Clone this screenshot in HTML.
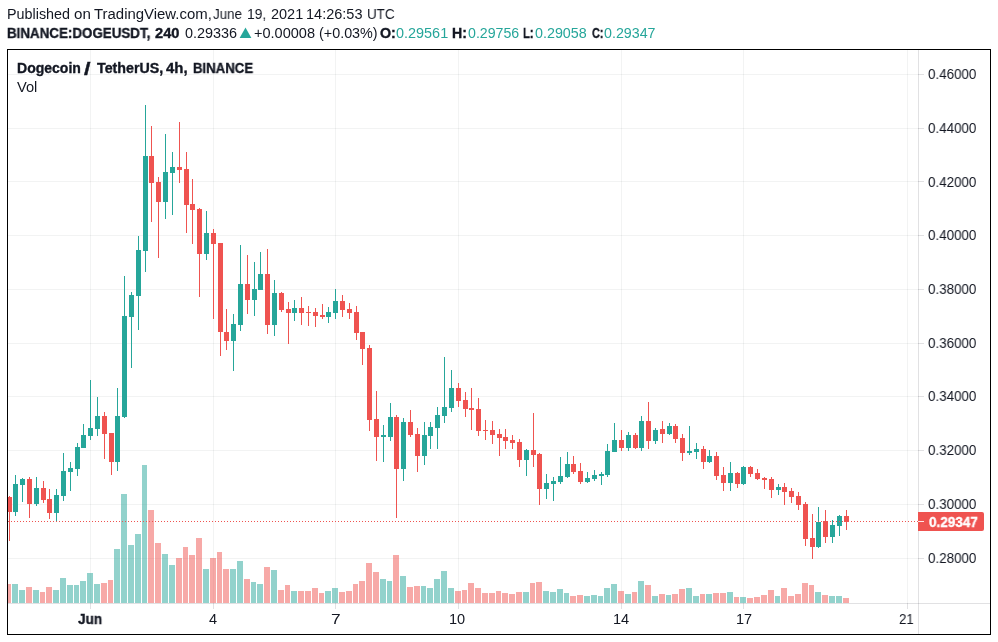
<!DOCTYPE html>
<html><head><meta charset="utf-8"><title>DOGEUSDT</title>
<style>
html,body{margin:0;padding:0;background:#fff;}
body{width:998px;height:642px;position:relative;overflow:hidden;font-family:"Liberation Sans",sans-serif;font-size:14px;color:#131722;}
.t{position:absolute;white-space:nowrap;line-height:16px;height:16px;transform-origin:0 0;will-change:transform;}
.b{font-weight:bold;-webkit-text-stroke:0.35px;}
svg{position:absolute;left:0;top:0;}
</style></head><body>

<svg width="998" height="642" viewBox="0 0 998 642" shape-rendering="crispEdges">
<rect x="8" y="74" width="910" height="1" fill="#2a2e39" fill-opacity="0.06"/>
<rect x="8" y="128" width="910" height="1" fill="#2a2e39" fill-opacity="0.06"/>
<rect x="8" y="181" width="910" height="1" fill="#2a2e39" fill-opacity="0.06"/>
<rect x="8" y="235" width="910" height="1" fill="#2a2e39" fill-opacity="0.06"/>
<rect x="8" y="289" width="910" height="1" fill="#2a2e39" fill-opacity="0.06"/>
<rect x="8" y="343" width="910" height="1" fill="#2a2e39" fill-opacity="0.06"/>
<rect x="8" y="396" width="910" height="1" fill="#2a2e39" fill-opacity="0.06"/>
<rect x="8" y="450" width="910" height="1" fill="#2a2e39" fill-opacity="0.06"/>
<rect x="8" y="504" width="910" height="1" fill="#2a2e39" fill-opacity="0.06"/>
<rect x="8" y="558" width="910" height="1" fill="#2a2e39" fill-opacity="0.06"/>
<rect x="90" y="50" width="1" height="553" fill="#2a2e39" fill-opacity="0.06"/>
<rect x="213" y="50" width="1" height="553" fill="#2a2e39" fill-opacity="0.06"/>
<rect x="335" y="50" width="1" height="553" fill="#2a2e39" fill-opacity="0.06"/>
<rect x="458" y="50" width="1" height="553" fill="#2a2e39" fill-opacity="0.06"/>
<rect x="621" y="50" width="1" height="553" fill="#2a2e39" fill-opacity="0.06"/>
<rect x="743" y="50" width="1" height="553" fill="#2a2e39" fill-opacity="0.06"/>
<rect x="907" y="50" width="1" height="553" fill="#2a2e39" fill-opacity="0.06"/>
<rect x="8" y="584" width="3" height="19" fill="#ef5350" fill-opacity="0.5"/>
<rect x="12" y="584" width="6" height="19" fill="#26a69a" fill-opacity="0.5"/>
<rect x="19" y="590" width="6" height="13" fill="#26a69a" fill-opacity="0.5"/>
<rect x="26" y="587" width="6" height="16" fill="#ef5350" fill-opacity="0.5"/>
<rect x="33" y="590" width="6" height="13" fill="#26a69a" fill-opacity="0.5"/>
<rect x="40" y="592" width="5" height="11" fill="#ef5350" fill-opacity="0.5"/>
<rect x="46" y="587" width="6" height="16" fill="#ef5350" fill-opacity="0.5"/>
<rect x="53" y="590" width="6" height="13" fill="#26a69a" fill-opacity="0.5"/>
<rect x="60" y="578" width="6" height="25" fill="#26a69a" fill-opacity="0.5"/>
<rect x="67" y="585" width="6" height="18" fill="#26a69a" fill-opacity="0.5"/>
<rect x="74" y="585" width="5" height="18" fill="#26a69a" fill-opacity="0.5"/>
<rect x="80" y="581" width="6" height="22" fill="#26a69a" fill-opacity="0.5"/>
<rect x="87" y="573" width="6" height="30" fill="#26a69a" fill-opacity="0.5"/>
<rect x="94" y="584" width="6" height="19" fill="#26a69a" fill-opacity="0.5"/>
<rect x="101" y="583" width="6" height="20" fill="#ef5350" fill-opacity="0.5"/>
<rect x="108" y="580" width="5" height="23" fill="#ef5350" fill-opacity="0.5"/>
<rect x="114" y="549" width="6" height="54" fill="#26a69a" fill-opacity="0.5"/>
<rect x="121" y="494" width="6" height="109" fill="#26a69a" fill-opacity="0.5"/>
<rect x="128" y="545" width="6" height="58" fill="#26a69a" fill-opacity="0.5"/>
<rect x="135" y="534" width="6" height="69" fill="#26a69a" fill-opacity="0.5"/>
<rect x="142" y="465" width="5" height="138" fill="#26a69a" fill-opacity="0.5"/>
<rect x="148" y="510" width="6" height="93" fill="#ef5350" fill-opacity="0.5"/>
<rect x="155" y="543" width="6" height="60" fill="#ef5350" fill-opacity="0.5"/>
<rect x="162" y="554" width="6" height="49" fill="#26a69a" fill-opacity="0.5"/>
<rect x="169" y="565" width="6" height="38" fill="#26a69a" fill-opacity="0.5"/>
<rect x="176" y="558" width="6" height="45" fill="#ef5350" fill-opacity="0.5"/>
<rect x="183" y="547" width="5" height="56" fill="#ef5350" fill-opacity="0.5"/>
<rect x="189" y="555" width="6" height="48" fill="#ef5350" fill-opacity="0.5"/>
<rect x="196" y="538" width="6" height="65" fill="#ef5350" fill-opacity="0.5"/>
<rect x="203" y="569" width="6" height="34" fill="#26a69a" fill-opacity="0.5"/>
<rect x="210" y="558" width="6" height="45" fill="#ef5350" fill-opacity="0.5"/>
<rect x="217" y="552" width="5" height="51" fill="#ef5350" fill-opacity="0.5"/>
<rect x="223" y="569" width="6" height="34" fill="#ef5350" fill-opacity="0.5"/>
<rect x="230" y="569" width="6" height="34" fill="#26a69a" fill-opacity="0.5"/>
<rect x="237" y="561" width="6" height="42" fill="#26a69a" fill-opacity="0.5"/>
<rect x="244" y="579" width="6" height="24" fill="#ef5350" fill-opacity="0.5"/>
<rect x="251" y="582" width="5" height="21" fill="#26a69a" fill-opacity="0.5"/>
<rect x="257" y="584" width="6" height="19" fill="#26a69a" fill-opacity="0.5"/>
<rect x="264" y="567" width="6" height="36" fill="#ef5350" fill-opacity="0.5"/>
<rect x="271" y="570" width="6" height="33" fill="#26a69a" fill-opacity="0.5"/>
<rect x="278" y="590" width="6" height="13" fill="#ef5350" fill-opacity="0.5"/>
<rect x="285" y="585" width="5" height="18" fill="#ef5350" fill-opacity="0.5"/>
<rect x="291" y="591" width="6" height="12" fill="#26a69a" fill-opacity="0.5"/>
<rect x="298" y="591" width="6" height="12" fill="#ef5350" fill-opacity="0.5"/>
<rect x="305" y="591" width="6" height="12" fill="#ef5350" fill-opacity="0.5"/>
<rect x="312" y="588" width="6" height="15" fill="#ef5350" fill-opacity="0.5"/>
<rect x="319" y="593" width="5" height="10" fill="#ef5350" fill-opacity="0.5"/>
<rect x="325" y="591" width="6" height="12" fill="#26a69a" fill-opacity="0.5"/>
<rect x="332" y="588" width="6" height="15" fill="#26a69a" fill-opacity="0.5"/>
<rect x="339" y="592" width="6" height="11" fill="#ef5350" fill-opacity="0.5"/>
<rect x="346" y="591" width="6" height="12" fill="#ef5350" fill-opacity="0.5"/>
<rect x="353" y="584" width="5" height="19" fill="#ef5350" fill-opacity="0.5"/>
<rect x="359" y="581" width="6" height="22" fill="#ef5350" fill-opacity="0.5"/>
<rect x="366" y="563" width="6" height="40" fill="#ef5350" fill-opacity="0.5"/>
<rect x="373" y="572" width="6" height="31" fill="#ef5350" fill-opacity="0.5"/>
<rect x="380" y="579" width="6" height="24" fill="#26a69a" fill-opacity="0.5"/>
<rect x="387" y="581" width="5" height="22" fill="#26a69a" fill-opacity="0.5"/>
<rect x="393" y="555" width="6" height="48" fill="#ef5350" fill-opacity="0.5"/>
<rect x="400" y="576" width="6" height="27" fill="#26a69a" fill-opacity="0.5"/>
<rect x="407" y="587" width="6" height="16" fill="#ef5350" fill-opacity="0.5"/>
<rect x="414" y="586" width="6" height="17" fill="#ef5350" fill-opacity="0.5"/>
<rect x="421" y="586" width="5" height="17" fill="#26a69a" fill-opacity="0.5"/>
<rect x="427" y="588" width="6" height="15" fill="#26a69a" fill-opacity="0.5"/>
<rect x="434" y="579" width="6" height="24" fill="#26a69a" fill-opacity="0.5"/>
<rect x="441" y="571" width="6" height="32" fill="#26a69a" fill-opacity="0.5"/>
<rect x="448" y="588" width="6" height="15" fill="#26a69a" fill-opacity="0.5"/>
<rect x="455" y="591" width="6" height="12" fill="#ef5350" fill-opacity="0.5"/>
<rect x="462" y="590" width="5" height="13" fill="#ef5350" fill-opacity="0.5"/>
<rect x="468" y="583" width="6" height="20" fill="#ef5350" fill-opacity="0.5"/>
<rect x="475" y="588" width="6" height="15" fill="#ef5350" fill-opacity="0.5"/>
<rect x="482" y="593" width="6" height="10" fill="#ef5350" fill-opacity="0.5"/>
<rect x="489" y="593" width="6" height="10" fill="#ef5350" fill-opacity="0.5"/>
<rect x="496" y="591" width="5" height="12" fill="#ef5350" fill-opacity="0.5"/>
<rect x="502" y="593" width="6" height="10" fill="#ef5350" fill-opacity="0.5"/>
<rect x="509" y="594" width="6" height="9" fill="#ef5350" fill-opacity="0.5"/>
<rect x="516" y="592" width="6" height="11" fill="#ef5350" fill-opacity="0.5"/>
<rect x="523" y="592" width="6" height="11" fill="#26a69a" fill-opacity="0.5"/>
<rect x="530" y="583" width="5" height="20" fill="#ef5350" fill-opacity="0.5"/>
<rect x="536" y="582" width="6" height="21" fill="#ef5350" fill-opacity="0.5"/>
<rect x="543" y="591" width="6" height="12" fill="#26a69a" fill-opacity="0.5"/>
<rect x="550" y="592" width="6" height="11" fill="#26a69a" fill-opacity="0.5"/>
<rect x="557" y="589" width="6" height="14" fill="#26a69a" fill-opacity="0.5"/>
<rect x="564" y="593" width="5" height="10" fill="#26a69a" fill-opacity="0.5"/>
<rect x="570" y="596" width="6" height="7" fill="#ef5350" fill-opacity="0.5"/>
<rect x="577" y="595" width="6" height="8" fill="#ef5350" fill-opacity="0.5"/>
<rect x="584" y="596" width="6" height="7" fill="#26a69a" fill-opacity="0.5"/>
<rect x="591" y="595" width="6" height="8" fill="#26a69a" fill-opacity="0.5"/>
<rect x="598" y="596" width="5" height="7" fill="#26a69a" fill-opacity="0.5"/>
<rect x="604" y="588" width="6" height="15" fill="#26a69a" fill-opacity="0.5"/>
<rect x="611" y="584" width="6" height="19" fill="#26a69a" fill-opacity="0.5"/>
<rect x="618" y="591" width="6" height="12" fill="#ef5350" fill-opacity="0.5"/>
<rect x="625" y="594" width="6" height="9" fill="#26a69a" fill-opacity="0.5"/>
<rect x="632" y="592" width="5" height="11" fill="#ef5350" fill-opacity="0.5"/>
<rect x="638" y="581" width="6" height="22" fill="#26a69a" fill-opacity="0.5"/>
<rect x="645" y="585" width="6" height="18" fill="#ef5350" fill-opacity="0.5"/>
<rect x="652" y="596" width="6" height="7" fill="#26a69a" fill-opacity="0.5"/>
<rect x="659" y="594" width="6" height="9" fill="#ef5350" fill-opacity="0.5"/>
<rect x="666" y="595" width="5" height="8" fill="#26a69a" fill-opacity="0.5"/>
<rect x="672" y="594" width="6" height="9" fill="#ef5350" fill-opacity="0.5"/>
<rect x="679" y="589" width="6" height="14" fill="#ef5350" fill-opacity="0.5"/>
<rect x="686" y="588" width="6" height="15" fill="#26a69a" fill-opacity="0.5"/>
<rect x="693" y="596" width="6" height="7" fill="#26a69a" fill-opacity="0.5"/>
<rect x="700" y="594" width="5" height="9" fill="#ef5350" fill-opacity="0.5"/>
<rect x="706" y="594" width="6" height="9" fill="#26a69a" fill-opacity="0.5"/>
<rect x="713" y="593" width="6" height="10" fill="#ef5350" fill-opacity="0.5"/>
<rect x="720" y="593" width="6" height="10" fill="#ef5350" fill-opacity="0.5"/>
<rect x="727" y="592" width="6" height="11" fill="#26a69a" fill-opacity="0.5"/>
<rect x="734" y="597" width="5" height="6" fill="#ef5350" fill-opacity="0.5"/>
<rect x="740" y="597" width="6" height="6" fill="#26a69a" fill-opacity="0.5"/>
<rect x="747" y="598" width="6" height="5" fill="#ef5350" fill-opacity="0.5"/>
<rect x="754" y="597" width="6" height="6" fill="#ef5350" fill-opacity="0.5"/>
<rect x="761" y="595" width="6" height="8" fill="#ef5350" fill-opacity="0.5"/>
<rect x="768" y="590" width="6" height="13" fill="#ef5350" fill-opacity="0.5"/>
<rect x="775" y="596" width="5" height="7" fill="#26a69a" fill-opacity="0.5"/>
<rect x="781" y="588" width="6" height="15" fill="#ef5350" fill-opacity="0.5"/>
<rect x="788" y="596" width="6" height="7" fill="#ef5350" fill-opacity="0.5"/>
<rect x="795" y="594" width="6" height="9" fill="#ef5350" fill-opacity="0.5"/>
<rect x="802" y="583" width="6" height="20" fill="#ef5350" fill-opacity="0.5"/>
<rect x="809" y="585" width="5" height="18" fill="#ef5350" fill-opacity="0.5"/>
<rect x="815" y="592" width="6" height="11" fill="#26a69a" fill-opacity="0.5"/>
<rect x="822" y="595" width="6" height="8" fill="#ef5350" fill-opacity="0.5"/>
<rect x="829" y="596" width="6" height="7" fill="#26a69a" fill-opacity="0.5"/>
<rect x="836" y="596" width="6" height="7" fill="#26a69a" fill-opacity="0.5"/>
<rect x="843" y="598" width="6" height="5" fill="#ef5350" fill-opacity="0.5"/>
<rect x="9" y="496" width="1" height="45" fill="#ef5350"/>
<rect x="8" y="497" width="4" height="15" fill="#ef5350"/>
<rect x="15" y="475" width="1" height="41" fill="#26a69a"/>
<rect x="13" y="484" width="5" height="28" fill="#26a69a"/>
<rect x="22" y="478" width="1" height="24" fill="#26a69a"/>
<rect x="20" y="479" width="5" height="6" fill="#26a69a"/>
<rect x="29" y="477" width="1" height="41" fill="#ef5350"/>
<rect x="27" y="479" width="5" height="25" fill="#ef5350"/>
<rect x="36" y="477" width="1" height="29" fill="#26a69a"/>
<rect x="34" y="488" width="5" height="16" fill="#26a69a"/>
<rect x="43" y="481" width="1" height="22" fill="#ef5350"/>
<rect x="41" y="488" width="5" height="12" fill="#ef5350"/>
<rect x="49" y="489" width="1" height="30" fill="#ef5350"/>
<rect x="47" y="499" width="5" height="14" fill="#ef5350"/>
<rect x="56" y="489" width="1" height="32" fill="#26a69a"/>
<rect x="54" y="495" width="5" height="18" fill="#26a69a"/>
<rect x="63" y="453" width="1" height="48" fill="#26a69a"/>
<rect x="61" y="471" width="5" height="25" fill="#26a69a"/>
<rect x="70" y="462" width="1" height="29" fill="#26a69a"/>
<rect x="68" y="468" width="5" height="4" fill="#26a69a"/>
<rect x="77" y="443" width="1" height="33" fill="#26a69a"/>
<rect x="75" y="447" width="5" height="22" fill="#26a69a"/>
<rect x="83" y="424" width="1" height="24" fill="#26a69a"/>
<rect x="81" y="435" width="5" height="13" fill="#26a69a"/>
<rect x="90" y="380" width="1" height="60" fill="#26a69a"/>
<rect x="88" y="428" width="5" height="8" fill="#26a69a"/>
<rect x="97" y="397" width="1" height="39" fill="#26a69a"/>
<rect x="95" y="416" width="5" height="13" fill="#26a69a"/>
<rect x="104" y="412" width="1" height="47" fill="#ef5350"/>
<rect x="102" y="416" width="5" height="18" fill="#ef5350"/>
<rect x="111" y="433" width="1" height="42" fill="#ef5350"/>
<rect x="109" y="433" width="5" height="29" fill="#ef5350"/>
<rect x="117" y="388" width="1" height="83" fill="#26a69a"/>
<rect x="115" y="416" width="5" height="46" fill="#26a69a"/>
<rect x="124" y="276" width="1" height="142" fill="#26a69a"/>
<rect x="122" y="316" width="5" height="101" fill="#26a69a"/>
<rect x="131" y="292" width="1" height="76" fill="#26a69a"/>
<rect x="129" y="295" width="5" height="22" fill="#26a69a"/>
<rect x="138" y="236" width="1" height="94" fill="#26a69a"/>
<rect x="136" y="250" width="5" height="46" fill="#26a69a"/>
<rect x="145" y="105" width="1" height="167" fill="#26a69a"/>
<rect x="143" y="156" width="5" height="95" fill="#26a69a"/>
<rect x="151" y="126" width="1" height="96" fill="#ef5350"/>
<rect x="149" y="156" width="5" height="27" fill="#ef5350"/>
<rect x="158" y="177" width="1" height="81" fill="#ef5350"/>
<rect x="156" y="182" width="5" height="20" fill="#ef5350"/>
<rect x="165" y="134" width="1" height="85" fill="#26a69a"/>
<rect x="163" y="172" width="5" height="30" fill="#26a69a"/>
<rect x="172" y="152" width="1" height="63" fill="#26a69a"/>
<rect x="170" y="167" width="5" height="6" fill="#26a69a"/>
<rect x="179" y="122" width="1" height="61" fill="#ef5350"/>
<rect x="177" y="167" width="5" height="3" fill="#ef5350"/>
<rect x="186" y="152" width="1" height="81" fill="#ef5350"/>
<rect x="184" y="169" width="5" height="36" fill="#ef5350"/>
<rect x="192" y="179" width="1" height="65" fill="#ef5350"/>
<rect x="190" y="204" width="5" height="6" fill="#ef5350"/>
<rect x="199" y="208" width="1" height="89" fill="#ef5350"/>
<rect x="197" y="209" width="5" height="45" fill="#ef5350"/>
<rect x="206" y="211" width="1" height="49" fill="#26a69a"/>
<rect x="204" y="233" width="5" height="21" fill="#26a69a"/>
<rect x="213" y="229" width="1" height="90" fill="#ef5350"/>
<rect x="211" y="233" width="5" height="11" fill="#ef5350"/>
<rect x="220" y="243" width="1" height="113" fill="#ef5350"/>
<rect x="218" y="243" width="5" height="89" fill="#ef5350"/>
<rect x="226" y="309" width="1" height="41" fill="#ef5350"/>
<rect x="224" y="332" width="5" height="9" fill="#ef5350"/>
<rect x="233" y="314" width="1" height="57" fill="#26a69a"/>
<rect x="231" y="324" width="5" height="17" fill="#26a69a"/>
<rect x="240" y="245" width="1" height="86" fill="#26a69a"/>
<rect x="238" y="284" width="5" height="41" fill="#26a69a"/>
<rect x="247" y="255" width="1" height="59" fill="#ef5350"/>
<rect x="245" y="284" width="5" height="16" fill="#ef5350"/>
<rect x="254" y="262" width="1" height="54" fill="#26a69a"/>
<rect x="252" y="289" width="5" height="11" fill="#26a69a"/>
<rect x="260" y="252" width="1" height="38" fill="#26a69a"/>
<rect x="258" y="274" width="5" height="16" fill="#26a69a"/>
<rect x="267" y="249" width="1" height="85" fill="#ef5350"/>
<rect x="265" y="274" width="5" height="51" fill="#ef5350"/>
<rect x="274" y="280" width="1" height="56" fill="#26a69a"/>
<rect x="272" y="293" width="5" height="32" fill="#26a69a"/>
<rect x="281" y="292" width="1" height="20" fill="#ef5350"/>
<rect x="279" y="293" width="5" height="17" fill="#ef5350"/>
<rect x="288" y="302" width="1" height="42" fill="#ef5350"/>
<rect x="286" y="309" width="5" height="4" fill="#ef5350"/>
<rect x="294" y="300" width="1" height="21" fill="#26a69a"/>
<rect x="292" y="308" width="5" height="5" fill="#26a69a"/>
<rect x="301" y="297" width="1" height="28" fill="#ef5350"/>
<rect x="299" y="308" width="5" height="5" fill="#ef5350"/>
<rect x="308" y="306" width="1" height="20" fill="#ef5350"/>
<rect x="306" y="312" width="5" height="1" fill="#ef5350"/>
<rect x="315" y="308" width="1" height="19" fill="#ef5350"/>
<rect x="313" y="312" width="5" height="4" fill="#ef5350"/>
<rect x="322" y="304" width="1" height="15" fill="#ef5350"/>
<rect x="320" y="315" width="5" height="2" fill="#ef5350"/>
<rect x="328" y="307" width="1" height="16" fill="#26a69a"/>
<rect x="326" y="312" width="5" height="5" fill="#26a69a"/>
<rect x="335" y="289" width="1" height="30" fill="#26a69a"/>
<rect x="333" y="301" width="5" height="12" fill="#26a69a"/>
<rect x="342" y="295" width="1" height="22" fill="#ef5350"/>
<rect x="340" y="301" width="5" height="9" fill="#ef5350"/>
<rect x="349" y="303" width="1" height="16" fill="#ef5350"/>
<rect x="347" y="309" width="5" height="4" fill="#ef5350"/>
<rect x="356" y="306" width="1" height="34" fill="#ef5350"/>
<rect x="354" y="312" width="5" height="21" fill="#ef5350"/>
<rect x="362" y="332" width="1" height="33" fill="#ef5350"/>
<rect x="360" y="332" width="5" height="17" fill="#ef5350"/>
<rect x="369" y="345" width="1" height="86" fill="#ef5350"/>
<rect x="367" y="348" width="5" height="72" fill="#ef5350"/>
<rect x="376" y="391" width="1" height="70" fill="#ef5350"/>
<rect x="374" y="419" width="5" height="18" fill="#ef5350"/>
<rect x="383" y="425" width="1" height="37" fill="#26a69a"/>
<rect x="381" y="435" width="5" height="2" fill="#26a69a"/>
<rect x="390" y="403" width="1" height="38" fill="#26a69a"/>
<rect x="388" y="417" width="5" height="20" fill="#26a69a"/>
<rect x="396" y="415" width="1" height="103" fill="#ef5350"/>
<rect x="394" y="417" width="5" height="52" fill="#ef5350"/>
<rect x="403" y="418" width="1" height="63" fill="#26a69a"/>
<rect x="401" y="422" width="5" height="47" fill="#26a69a"/>
<rect x="410" y="410" width="1" height="27" fill="#ef5350"/>
<rect x="408" y="422" width="5" height="13" fill="#ef5350"/>
<rect x="417" y="428" width="1" height="44" fill="#ef5350"/>
<rect x="415" y="434" width="5" height="22" fill="#ef5350"/>
<rect x="424" y="422" width="1" height="43" fill="#26a69a"/>
<rect x="422" y="435" width="5" height="21" fill="#26a69a"/>
<rect x="430" y="422" width="1" height="27" fill="#26a69a"/>
<rect x="428" y="427" width="5" height="9" fill="#26a69a"/>
<rect x="437" y="407" width="1" height="42" fill="#26a69a"/>
<rect x="435" y="415" width="5" height="13" fill="#26a69a"/>
<rect x="444" y="357" width="1" height="66" fill="#26a69a"/>
<rect x="442" y="407" width="5" height="9" fill="#26a69a"/>
<rect x="451" y="370" width="1" height="42" fill="#26a69a"/>
<rect x="449" y="388" width="5" height="20" fill="#26a69a"/>
<rect x="458" y="383" width="1" height="24" fill="#ef5350"/>
<rect x="456" y="388" width="5" height="13" fill="#ef5350"/>
<rect x="465" y="392" width="1" height="25" fill="#ef5350"/>
<rect x="463" y="400" width="5" height="9" fill="#ef5350"/>
<rect x="471" y="388" width="1" height="42" fill="#ef5350"/>
<rect x="469" y="408" width="5" height="2" fill="#ef5350"/>
<rect x="478" y="398" width="1" height="38" fill="#ef5350"/>
<rect x="476" y="409" width="5" height="22" fill="#ef5350"/>
<rect x="485" y="420" width="1" height="20" fill="#ef5350"/>
<rect x="483" y="430" width="5" height="1" fill="#ef5350"/>
<rect x="492" y="421" width="1" height="23" fill="#ef5350"/>
<rect x="490" y="430" width="5" height="5" fill="#ef5350"/>
<rect x="499" y="429" width="1" height="27" fill="#ef5350"/>
<rect x="497" y="434" width="5" height="4" fill="#ef5350"/>
<rect x="505" y="429" width="1" height="20" fill="#ef5350"/>
<rect x="503" y="437" width="5" height="4" fill="#ef5350"/>
<rect x="512" y="435" width="1" height="14" fill="#ef5350"/>
<rect x="510" y="440" width="5" height="3" fill="#ef5350"/>
<rect x="519" y="439" width="1" height="28" fill="#ef5350"/>
<rect x="517" y="442" width="5" height="18" fill="#ef5350"/>
<rect x="526" y="449" width="1" height="27" fill="#26a69a"/>
<rect x="524" y="450" width="5" height="10" fill="#26a69a"/>
<rect x="533" y="413" width="1" height="54" fill="#ef5350"/>
<rect x="531" y="450" width="5" height="5" fill="#ef5350"/>
<rect x="539" y="453" width="1" height="52" fill="#ef5350"/>
<rect x="537" y="454" width="5" height="35" fill="#ef5350"/>
<rect x="546" y="474" width="1" height="25" fill="#26a69a"/>
<rect x="544" y="483" width="5" height="6" fill="#26a69a"/>
<rect x="553" y="477" width="1" height="24" fill="#26a69a"/>
<rect x="551" y="481" width="5" height="3" fill="#26a69a"/>
<rect x="560" y="457" width="1" height="27" fill="#26a69a"/>
<rect x="558" y="476" width="5" height="6" fill="#26a69a"/>
<rect x="567" y="452" width="1" height="26" fill="#26a69a"/>
<rect x="565" y="464" width="5" height="13" fill="#26a69a"/>
<rect x="573" y="456" width="1" height="18" fill="#ef5350"/>
<rect x="571" y="464" width="5" height="8" fill="#ef5350"/>
<rect x="580" y="463" width="1" height="21" fill="#ef5350"/>
<rect x="578" y="471" width="5" height="11" fill="#ef5350"/>
<rect x="587" y="472" width="1" height="11" fill="#26a69a"/>
<rect x="585" y="478" width="5" height="4" fill="#26a69a"/>
<rect x="594" y="470" width="1" height="11" fill="#26a69a"/>
<rect x="592" y="475" width="5" height="4" fill="#26a69a"/>
<rect x="601" y="472" width="1" height="13" fill="#26a69a"/>
<rect x="599" y="474" width="5" height="2" fill="#26a69a"/>
<rect x="607" y="444" width="1" height="33" fill="#26a69a"/>
<rect x="605" y="451" width="5" height="24" fill="#26a69a"/>
<rect x="614" y="423" width="1" height="29" fill="#26a69a"/>
<rect x="612" y="440" width="5" height="12" fill="#26a69a"/>
<rect x="621" y="430" width="1" height="21" fill="#ef5350"/>
<rect x="619" y="440" width="5" height="8" fill="#ef5350"/>
<rect x="628" y="432" width="1" height="19" fill="#26a69a"/>
<rect x="626" y="435" width="5" height="13" fill="#26a69a"/>
<rect x="635" y="433" width="1" height="16" fill="#ef5350"/>
<rect x="633" y="435" width="5" height="13" fill="#ef5350"/>
<rect x="641" y="416" width="1" height="35" fill="#26a69a"/>
<rect x="639" y="421" width="5" height="27" fill="#26a69a"/>
<rect x="648" y="402" width="1" height="47" fill="#ef5350"/>
<rect x="646" y="421" width="5" height="20" fill="#ef5350"/>
<rect x="655" y="428" width="1" height="16" fill="#26a69a"/>
<rect x="653" y="430" width="5" height="11" fill="#26a69a"/>
<rect x="662" y="421" width="1" height="22" fill="#ef5350"/>
<rect x="660" y="429" width="5" height="5" fill="#ef5350"/>
<rect x="669" y="423" width="1" height="12" fill="#26a69a"/>
<rect x="667" y="426" width="5" height="8" fill="#26a69a"/>
<rect x="675" y="424" width="1" height="19" fill="#ef5350"/>
<rect x="673" y="426" width="5" height="13" fill="#ef5350"/>
<rect x="682" y="434" width="1" height="27" fill="#ef5350"/>
<rect x="680" y="438" width="5" height="15" fill="#ef5350"/>
<rect x="689" y="426" width="1" height="29" fill="#26a69a"/>
<rect x="687" y="451" width="5" height="2" fill="#26a69a"/>
<rect x="696" y="443" width="1" height="16" fill="#26a69a"/>
<rect x="694" y="449" width="5" height="3" fill="#26a69a"/>
<rect x="703" y="446" width="1" height="23" fill="#ef5350"/>
<rect x="701" y="449" width="5" height="13" fill="#ef5350"/>
<rect x="709" y="450" width="1" height="13" fill="#26a69a"/>
<rect x="707" y="456" width="5" height="6" fill="#26a69a"/>
<rect x="716" y="452" width="1" height="28" fill="#ef5350"/>
<rect x="714" y="456" width="5" height="20" fill="#ef5350"/>
<rect x="723" y="467" width="1" height="24" fill="#ef5350"/>
<rect x="721" y="475" width="5" height="8" fill="#ef5350"/>
<rect x="730" y="462" width="1" height="29" fill="#26a69a"/>
<rect x="728" y="473" width="5" height="10" fill="#26a69a"/>
<rect x="737" y="472" width="1" height="16" fill="#ef5350"/>
<rect x="735" y="473" width="5" height="11" fill="#ef5350"/>
<rect x="743" y="466" width="1" height="19" fill="#26a69a"/>
<rect x="741" y="467" width="5" height="17" fill="#26a69a"/>
<rect x="750" y="466" width="1" height="11" fill="#ef5350"/>
<rect x="748" y="467" width="5" height="7" fill="#ef5350"/>
<rect x="757" y="469" width="1" height="11" fill="#ef5350"/>
<rect x="755" y="473" width="5" height="6" fill="#ef5350"/>
<rect x="764" y="477" width="1" height="12" fill="#ef5350"/>
<rect x="762" y="478" width="5" height="2" fill="#ef5350"/>
<rect x="771" y="477" width="1" height="21" fill="#ef5350"/>
<rect x="769" y="479" width="5" height="11" fill="#ef5350"/>
<rect x="778" y="484" width="1" height="11" fill="#26a69a"/>
<rect x="776" y="487" width="5" height="3" fill="#26a69a"/>
<rect x="784" y="483" width="1" height="22" fill="#ef5350"/>
<rect x="782" y="487" width="5" height="5" fill="#ef5350"/>
<rect x="791" y="488" width="1" height="15" fill="#ef5350"/>
<rect x="789" y="491" width="5" height="6" fill="#ef5350"/>
<rect x="798" y="492" width="1" height="18" fill="#ef5350"/>
<rect x="796" y="496" width="5" height="9" fill="#ef5350"/>
<rect x="805" y="502" width="1" height="44" fill="#ef5350"/>
<rect x="803" y="504" width="5" height="35" fill="#ef5350"/>
<rect x="812" y="514" width="1" height="45" fill="#ef5350"/>
<rect x="810" y="538" width="5" height="9" fill="#ef5350"/>
<rect x="818" y="507" width="1" height="41" fill="#26a69a"/>
<rect x="816" y="522" width="5" height="25" fill="#26a69a"/>
<rect x="825" y="510" width="1" height="33" fill="#ef5350"/>
<rect x="823" y="521" width="5" height="16" fill="#ef5350"/>
<rect x="832" y="520" width="1" height="23" fill="#26a69a"/>
<rect x="830" y="525" width="5" height="12" fill="#26a69a"/>
<rect x="839" y="515" width="1" height="21" fill="#26a69a"/>
<rect x="837" y="516" width="5" height="10" fill="#26a69a"/>
<rect x="846" y="510" width="1" height="20" fill="#ef5350"/>
<rect x="844" y="516" width="5" height="6" fill="#ef5350"/>
<rect x="8" y="521" width="1" height="1" fill="#ef5350"/>
<rect x="11" y="521" width="1" height="1" fill="#ef5350"/>
<rect x="14" y="521" width="1" height="1" fill="#ef5350"/>
<rect x="17" y="521" width="1" height="1" fill="#ef5350"/>
<rect x="20" y="521" width="1" height="1" fill="#ef5350"/>
<rect x="23" y="521" width="1" height="1" fill="#ef5350"/>
<rect x="26" y="521" width="1" height="1" fill="#ef5350"/>
<rect x="29" y="521" width="1" height="1" fill="#ef5350"/>
<rect x="32" y="521" width="1" height="1" fill="#ef5350"/>
<rect x="35" y="521" width="1" height="1" fill="#ef5350"/>
<rect x="38" y="521" width="1" height="1" fill="#ef5350"/>
<rect x="41" y="521" width="1" height="1" fill="#ef5350"/>
<rect x="44" y="521" width="1" height="1" fill="#ef5350"/>
<rect x="47" y="521" width="1" height="1" fill="#ef5350"/>
<rect x="50" y="521" width="1" height="1" fill="#ef5350"/>
<rect x="53" y="521" width="1" height="1" fill="#ef5350"/>
<rect x="56" y="521" width="1" height="1" fill="#ef5350"/>
<rect x="59" y="521" width="1" height="1" fill="#ef5350"/>
<rect x="62" y="521" width="1" height="1" fill="#ef5350"/>
<rect x="65" y="521" width="1" height="1" fill="#ef5350"/>
<rect x="68" y="521" width="1" height="1" fill="#ef5350"/>
<rect x="71" y="521" width="1" height="1" fill="#ef5350"/>
<rect x="74" y="521" width="1" height="1" fill="#ef5350"/>
<rect x="77" y="521" width="1" height="1" fill="#ef5350"/>
<rect x="80" y="521" width="1" height="1" fill="#ef5350"/>
<rect x="83" y="521" width="1" height="1" fill="#ef5350"/>
<rect x="86" y="521" width="1" height="1" fill="#ef5350"/>
<rect x="89" y="521" width="1" height="1" fill="#ef5350"/>
<rect x="92" y="521" width="1" height="1" fill="#ef5350"/>
<rect x="95" y="521" width="1" height="1" fill="#ef5350"/>
<rect x="98" y="521" width="1" height="1" fill="#ef5350"/>
<rect x="101" y="521" width="1" height="1" fill="#ef5350"/>
<rect x="104" y="521" width="1" height="1" fill="#ef5350"/>
<rect x="107" y="521" width="1" height="1" fill="#ef5350"/>
<rect x="110" y="521" width="1" height="1" fill="#ef5350"/>
<rect x="113" y="521" width="1" height="1" fill="#ef5350"/>
<rect x="116" y="521" width="1" height="1" fill="#ef5350"/>
<rect x="119" y="521" width="1" height="1" fill="#ef5350"/>
<rect x="122" y="521" width="1" height="1" fill="#ef5350"/>
<rect x="125" y="521" width="1" height="1" fill="#ef5350"/>
<rect x="128" y="521" width="1" height="1" fill="#ef5350"/>
<rect x="131" y="521" width="1" height="1" fill="#ef5350"/>
<rect x="134" y="521" width="1" height="1" fill="#ef5350"/>
<rect x="137" y="521" width="1" height="1" fill="#ef5350"/>
<rect x="140" y="521" width="1" height="1" fill="#ef5350"/>
<rect x="143" y="521" width="1" height="1" fill="#ef5350"/>
<rect x="146" y="521" width="1" height="1" fill="#ef5350"/>
<rect x="149" y="521" width="1" height="1" fill="#ef5350"/>
<rect x="152" y="521" width="1" height="1" fill="#ef5350"/>
<rect x="155" y="521" width="1" height="1" fill="#ef5350"/>
<rect x="158" y="521" width="1" height="1" fill="#ef5350"/>
<rect x="161" y="521" width="1" height="1" fill="#ef5350"/>
<rect x="164" y="521" width="1" height="1" fill="#ef5350"/>
<rect x="167" y="521" width="1" height="1" fill="#ef5350"/>
<rect x="170" y="521" width="1" height="1" fill="#ef5350"/>
<rect x="173" y="521" width="1" height="1" fill="#ef5350"/>
<rect x="176" y="521" width="1" height="1" fill="#ef5350"/>
<rect x="179" y="521" width="1" height="1" fill="#ef5350"/>
<rect x="182" y="521" width="1" height="1" fill="#ef5350"/>
<rect x="185" y="521" width="1" height="1" fill="#ef5350"/>
<rect x="188" y="521" width="1" height="1" fill="#ef5350"/>
<rect x="191" y="521" width="1" height="1" fill="#ef5350"/>
<rect x="194" y="521" width="1" height="1" fill="#ef5350"/>
<rect x="197" y="521" width="1" height="1" fill="#ef5350"/>
<rect x="200" y="521" width="1" height="1" fill="#ef5350"/>
<rect x="203" y="521" width="1" height="1" fill="#ef5350"/>
<rect x="206" y="521" width="1" height="1" fill="#ef5350"/>
<rect x="209" y="521" width="1" height="1" fill="#ef5350"/>
<rect x="212" y="521" width="1" height="1" fill="#ef5350"/>
<rect x="215" y="521" width="1" height="1" fill="#ef5350"/>
<rect x="218" y="521" width="1" height="1" fill="#ef5350"/>
<rect x="221" y="521" width="1" height="1" fill="#ef5350"/>
<rect x="224" y="521" width="1" height="1" fill="#ef5350"/>
<rect x="227" y="521" width="1" height="1" fill="#ef5350"/>
<rect x="230" y="521" width="1" height="1" fill="#ef5350"/>
<rect x="233" y="521" width="1" height="1" fill="#ef5350"/>
<rect x="236" y="521" width="1" height="1" fill="#ef5350"/>
<rect x="239" y="521" width="1" height="1" fill="#ef5350"/>
<rect x="242" y="521" width="1" height="1" fill="#ef5350"/>
<rect x="245" y="521" width="1" height="1" fill="#ef5350"/>
<rect x="248" y="521" width="1" height="1" fill="#ef5350"/>
<rect x="251" y="521" width="1" height="1" fill="#ef5350"/>
<rect x="254" y="521" width="1" height="1" fill="#ef5350"/>
<rect x="257" y="521" width="1" height="1" fill="#ef5350"/>
<rect x="260" y="521" width="1" height="1" fill="#ef5350"/>
<rect x="263" y="521" width="1" height="1" fill="#ef5350"/>
<rect x="266" y="521" width="1" height="1" fill="#ef5350"/>
<rect x="269" y="521" width="1" height="1" fill="#ef5350"/>
<rect x="272" y="521" width="1" height="1" fill="#ef5350"/>
<rect x="275" y="521" width="1" height="1" fill="#ef5350"/>
<rect x="278" y="521" width="1" height="1" fill="#ef5350"/>
<rect x="281" y="521" width="1" height="1" fill="#ef5350"/>
<rect x="284" y="521" width="1" height="1" fill="#ef5350"/>
<rect x="287" y="521" width="1" height="1" fill="#ef5350"/>
<rect x="290" y="521" width="1" height="1" fill="#ef5350"/>
<rect x="293" y="521" width="1" height="1" fill="#ef5350"/>
<rect x="296" y="521" width="1" height="1" fill="#ef5350"/>
<rect x="299" y="521" width="1" height="1" fill="#ef5350"/>
<rect x="302" y="521" width="1" height="1" fill="#ef5350"/>
<rect x="305" y="521" width="1" height="1" fill="#ef5350"/>
<rect x="308" y="521" width="1" height="1" fill="#ef5350"/>
<rect x="311" y="521" width="1" height="1" fill="#ef5350"/>
<rect x="314" y="521" width="1" height="1" fill="#ef5350"/>
<rect x="317" y="521" width="1" height="1" fill="#ef5350"/>
<rect x="320" y="521" width="1" height="1" fill="#ef5350"/>
<rect x="323" y="521" width="1" height="1" fill="#ef5350"/>
<rect x="326" y="521" width="1" height="1" fill="#ef5350"/>
<rect x="329" y="521" width="1" height="1" fill="#ef5350"/>
<rect x="332" y="521" width="1" height="1" fill="#ef5350"/>
<rect x="335" y="521" width="1" height="1" fill="#ef5350"/>
<rect x="338" y="521" width="1" height="1" fill="#ef5350"/>
<rect x="341" y="521" width="1" height="1" fill="#ef5350"/>
<rect x="344" y="521" width="1" height="1" fill="#ef5350"/>
<rect x="347" y="521" width="1" height="1" fill="#ef5350"/>
<rect x="350" y="521" width="1" height="1" fill="#ef5350"/>
<rect x="353" y="521" width="1" height="1" fill="#ef5350"/>
<rect x="356" y="521" width="1" height="1" fill="#ef5350"/>
<rect x="359" y="521" width="1" height="1" fill="#ef5350"/>
<rect x="362" y="521" width="1" height="1" fill="#ef5350"/>
<rect x="365" y="521" width="1" height="1" fill="#ef5350"/>
<rect x="368" y="521" width="1" height="1" fill="#ef5350"/>
<rect x="371" y="521" width="1" height="1" fill="#ef5350"/>
<rect x="374" y="521" width="1" height="1" fill="#ef5350"/>
<rect x="377" y="521" width="1" height="1" fill="#ef5350"/>
<rect x="380" y="521" width="1" height="1" fill="#ef5350"/>
<rect x="383" y="521" width="1" height="1" fill="#ef5350"/>
<rect x="386" y="521" width="1" height="1" fill="#ef5350"/>
<rect x="389" y="521" width="1" height="1" fill="#ef5350"/>
<rect x="392" y="521" width="1" height="1" fill="#ef5350"/>
<rect x="395" y="521" width="1" height="1" fill="#ef5350"/>
<rect x="398" y="521" width="1" height="1" fill="#ef5350"/>
<rect x="401" y="521" width="1" height="1" fill="#ef5350"/>
<rect x="404" y="521" width="1" height="1" fill="#ef5350"/>
<rect x="407" y="521" width="1" height="1" fill="#ef5350"/>
<rect x="410" y="521" width="1" height="1" fill="#ef5350"/>
<rect x="413" y="521" width="1" height="1" fill="#ef5350"/>
<rect x="416" y="521" width="1" height="1" fill="#ef5350"/>
<rect x="419" y="521" width="1" height="1" fill="#ef5350"/>
<rect x="422" y="521" width="1" height="1" fill="#ef5350"/>
<rect x="425" y="521" width="1" height="1" fill="#ef5350"/>
<rect x="428" y="521" width="1" height="1" fill="#ef5350"/>
<rect x="431" y="521" width="1" height="1" fill="#ef5350"/>
<rect x="434" y="521" width="1" height="1" fill="#ef5350"/>
<rect x="437" y="521" width="1" height="1" fill="#ef5350"/>
<rect x="440" y="521" width="1" height="1" fill="#ef5350"/>
<rect x="443" y="521" width="1" height="1" fill="#ef5350"/>
<rect x="446" y="521" width="1" height="1" fill="#ef5350"/>
<rect x="449" y="521" width="1" height="1" fill="#ef5350"/>
<rect x="452" y="521" width="1" height="1" fill="#ef5350"/>
<rect x="455" y="521" width="1" height="1" fill="#ef5350"/>
<rect x="458" y="521" width="1" height="1" fill="#ef5350"/>
<rect x="461" y="521" width="1" height="1" fill="#ef5350"/>
<rect x="464" y="521" width="1" height="1" fill="#ef5350"/>
<rect x="467" y="521" width="1" height="1" fill="#ef5350"/>
<rect x="470" y="521" width="1" height="1" fill="#ef5350"/>
<rect x="473" y="521" width="1" height="1" fill="#ef5350"/>
<rect x="476" y="521" width="1" height="1" fill="#ef5350"/>
<rect x="479" y="521" width="1" height="1" fill="#ef5350"/>
<rect x="482" y="521" width="1" height="1" fill="#ef5350"/>
<rect x="485" y="521" width="1" height="1" fill="#ef5350"/>
<rect x="488" y="521" width="1" height="1" fill="#ef5350"/>
<rect x="491" y="521" width="1" height="1" fill="#ef5350"/>
<rect x="494" y="521" width="1" height="1" fill="#ef5350"/>
<rect x="497" y="521" width="1" height="1" fill="#ef5350"/>
<rect x="500" y="521" width="1" height="1" fill="#ef5350"/>
<rect x="503" y="521" width="1" height="1" fill="#ef5350"/>
<rect x="506" y="521" width="1" height="1" fill="#ef5350"/>
<rect x="509" y="521" width="1" height="1" fill="#ef5350"/>
<rect x="512" y="521" width="1" height="1" fill="#ef5350"/>
<rect x="515" y="521" width="1" height="1" fill="#ef5350"/>
<rect x="518" y="521" width="1" height="1" fill="#ef5350"/>
<rect x="521" y="521" width="1" height="1" fill="#ef5350"/>
<rect x="524" y="521" width="1" height="1" fill="#ef5350"/>
<rect x="527" y="521" width="1" height="1" fill="#ef5350"/>
<rect x="530" y="521" width="1" height="1" fill="#ef5350"/>
<rect x="533" y="521" width="1" height="1" fill="#ef5350"/>
<rect x="536" y="521" width="1" height="1" fill="#ef5350"/>
<rect x="539" y="521" width="1" height="1" fill="#ef5350"/>
<rect x="542" y="521" width="1" height="1" fill="#ef5350"/>
<rect x="545" y="521" width="1" height="1" fill="#ef5350"/>
<rect x="548" y="521" width="1" height="1" fill="#ef5350"/>
<rect x="551" y="521" width="1" height="1" fill="#ef5350"/>
<rect x="554" y="521" width="1" height="1" fill="#ef5350"/>
<rect x="557" y="521" width="1" height="1" fill="#ef5350"/>
<rect x="560" y="521" width="1" height="1" fill="#ef5350"/>
<rect x="563" y="521" width="1" height="1" fill="#ef5350"/>
<rect x="566" y="521" width="1" height="1" fill="#ef5350"/>
<rect x="569" y="521" width="1" height="1" fill="#ef5350"/>
<rect x="572" y="521" width="1" height="1" fill="#ef5350"/>
<rect x="575" y="521" width="1" height="1" fill="#ef5350"/>
<rect x="578" y="521" width="1" height="1" fill="#ef5350"/>
<rect x="581" y="521" width="1" height="1" fill="#ef5350"/>
<rect x="584" y="521" width="1" height="1" fill="#ef5350"/>
<rect x="587" y="521" width="1" height="1" fill="#ef5350"/>
<rect x="590" y="521" width="1" height="1" fill="#ef5350"/>
<rect x="593" y="521" width="1" height="1" fill="#ef5350"/>
<rect x="596" y="521" width="1" height="1" fill="#ef5350"/>
<rect x="599" y="521" width="1" height="1" fill="#ef5350"/>
<rect x="602" y="521" width="1" height="1" fill="#ef5350"/>
<rect x="605" y="521" width="1" height="1" fill="#ef5350"/>
<rect x="608" y="521" width="1" height="1" fill="#ef5350"/>
<rect x="611" y="521" width="1" height="1" fill="#ef5350"/>
<rect x="614" y="521" width="1" height="1" fill="#ef5350"/>
<rect x="617" y="521" width="1" height="1" fill="#ef5350"/>
<rect x="620" y="521" width="1" height="1" fill="#ef5350"/>
<rect x="623" y="521" width="1" height="1" fill="#ef5350"/>
<rect x="626" y="521" width="1" height="1" fill="#ef5350"/>
<rect x="629" y="521" width="1" height="1" fill="#ef5350"/>
<rect x="632" y="521" width="1" height="1" fill="#ef5350"/>
<rect x="635" y="521" width="1" height="1" fill="#ef5350"/>
<rect x="638" y="521" width="1" height="1" fill="#ef5350"/>
<rect x="641" y="521" width="1" height="1" fill="#ef5350"/>
<rect x="644" y="521" width="1" height="1" fill="#ef5350"/>
<rect x="647" y="521" width="1" height="1" fill="#ef5350"/>
<rect x="650" y="521" width="1" height="1" fill="#ef5350"/>
<rect x="653" y="521" width="1" height="1" fill="#ef5350"/>
<rect x="656" y="521" width="1" height="1" fill="#ef5350"/>
<rect x="659" y="521" width="1" height="1" fill="#ef5350"/>
<rect x="662" y="521" width="1" height="1" fill="#ef5350"/>
<rect x="665" y="521" width="1" height="1" fill="#ef5350"/>
<rect x="668" y="521" width="1" height="1" fill="#ef5350"/>
<rect x="671" y="521" width="1" height="1" fill="#ef5350"/>
<rect x="674" y="521" width="1" height="1" fill="#ef5350"/>
<rect x="677" y="521" width="1" height="1" fill="#ef5350"/>
<rect x="680" y="521" width="1" height="1" fill="#ef5350"/>
<rect x="683" y="521" width="1" height="1" fill="#ef5350"/>
<rect x="686" y="521" width="1" height="1" fill="#ef5350"/>
<rect x="689" y="521" width="1" height="1" fill="#ef5350"/>
<rect x="692" y="521" width="1" height="1" fill="#ef5350"/>
<rect x="695" y="521" width="1" height="1" fill="#ef5350"/>
<rect x="698" y="521" width="1" height="1" fill="#ef5350"/>
<rect x="701" y="521" width="1" height="1" fill="#ef5350"/>
<rect x="704" y="521" width="1" height="1" fill="#ef5350"/>
<rect x="707" y="521" width="1" height="1" fill="#ef5350"/>
<rect x="710" y="521" width="1" height="1" fill="#ef5350"/>
<rect x="713" y="521" width="1" height="1" fill="#ef5350"/>
<rect x="716" y="521" width="1" height="1" fill="#ef5350"/>
<rect x="719" y="521" width="1" height="1" fill="#ef5350"/>
<rect x="722" y="521" width="1" height="1" fill="#ef5350"/>
<rect x="725" y="521" width="1" height="1" fill="#ef5350"/>
<rect x="728" y="521" width="1" height="1" fill="#ef5350"/>
<rect x="731" y="521" width="1" height="1" fill="#ef5350"/>
<rect x="734" y="521" width="1" height="1" fill="#ef5350"/>
<rect x="737" y="521" width="1" height="1" fill="#ef5350"/>
<rect x="740" y="521" width="1" height="1" fill="#ef5350"/>
<rect x="743" y="521" width="1" height="1" fill="#ef5350"/>
<rect x="746" y="521" width="1" height="1" fill="#ef5350"/>
<rect x="749" y="521" width="1" height="1" fill="#ef5350"/>
<rect x="752" y="521" width="1" height="1" fill="#ef5350"/>
<rect x="755" y="521" width="1" height="1" fill="#ef5350"/>
<rect x="758" y="521" width="1" height="1" fill="#ef5350"/>
<rect x="761" y="521" width="1" height="1" fill="#ef5350"/>
<rect x="764" y="521" width="1" height="1" fill="#ef5350"/>
<rect x="767" y="521" width="1" height="1" fill="#ef5350"/>
<rect x="770" y="521" width="1" height="1" fill="#ef5350"/>
<rect x="773" y="521" width="1" height="1" fill="#ef5350"/>
<rect x="776" y="521" width="1" height="1" fill="#ef5350"/>
<rect x="779" y="521" width="1" height="1" fill="#ef5350"/>
<rect x="782" y="521" width="1" height="1" fill="#ef5350"/>
<rect x="785" y="521" width="1" height="1" fill="#ef5350"/>
<rect x="788" y="521" width="1" height="1" fill="#ef5350"/>
<rect x="791" y="521" width="1" height="1" fill="#ef5350"/>
<rect x="794" y="521" width="1" height="1" fill="#ef5350"/>
<rect x="797" y="521" width="1" height="1" fill="#ef5350"/>
<rect x="800" y="521" width="1" height="1" fill="#ef5350"/>
<rect x="803" y="521" width="1" height="1" fill="#ef5350"/>
<rect x="806" y="521" width="1" height="1" fill="#ef5350"/>
<rect x="809" y="521" width="1" height="1" fill="#ef5350"/>
<rect x="812" y="521" width="1" height="1" fill="#ef5350"/>
<rect x="815" y="521" width="1" height="1" fill="#ef5350"/>
<rect x="818" y="521" width="1" height="1" fill="#ef5350"/>
<rect x="821" y="521" width="1" height="1" fill="#ef5350"/>
<rect x="824" y="521" width="1" height="1" fill="#ef5350"/>
<rect x="827" y="521" width="1" height="1" fill="#ef5350"/>
<rect x="830" y="521" width="1" height="1" fill="#ef5350"/>
<rect x="833" y="521" width="1" height="1" fill="#ef5350"/>
<rect x="836" y="521" width="1" height="1" fill="#ef5350"/>
<rect x="839" y="521" width="1" height="1" fill="#ef5350"/>
<rect x="842" y="521" width="1" height="1" fill="#ef5350"/>
<rect x="845" y="521" width="1" height="1" fill="#ef5350"/>
<rect x="848" y="521" width="1" height="1" fill="#ef5350"/>
<rect x="851" y="521" width="1" height="1" fill="#ef5350"/>
<rect x="854" y="521" width="1" height="1" fill="#ef5350"/>
<rect x="857" y="521" width="1" height="1" fill="#ef5350"/>
<rect x="860" y="521" width="1" height="1" fill="#ef5350"/>
<rect x="863" y="521" width="1" height="1" fill="#ef5350"/>
<rect x="866" y="521" width="1" height="1" fill="#ef5350"/>
<rect x="869" y="521" width="1" height="1" fill="#ef5350"/>
<rect x="872" y="521" width="1" height="1" fill="#ef5350"/>
<rect x="875" y="521" width="1" height="1" fill="#ef5350"/>
<rect x="878" y="521" width="1" height="1" fill="#ef5350"/>
<rect x="881" y="521" width="1" height="1" fill="#ef5350"/>
<rect x="884" y="521" width="1" height="1" fill="#ef5350"/>
<rect x="887" y="521" width="1" height="1" fill="#ef5350"/>
<rect x="890" y="521" width="1" height="1" fill="#ef5350"/>
<rect x="893" y="521" width="1" height="1" fill="#ef5350"/>
<rect x="896" y="521" width="1" height="1" fill="#ef5350"/>
<rect x="899" y="521" width="1" height="1" fill="#ef5350"/>
<rect x="902" y="521" width="1" height="1" fill="#ef5350"/>
<rect x="905" y="521" width="1" height="1" fill="#ef5350"/>
<rect x="908" y="521" width="1" height="1" fill="#ef5350"/>
<rect x="911" y="521" width="1" height="1" fill="#ef5350"/>
<rect x="914" y="521" width="1" height="1" fill="#ef5350"/>
<rect x="917" y="521" width="1" height="1" fill="#ef5350"/>
<rect x="918" y="50" width="1" height="584" fill="#2a2e39" fill-opacity="0.14"/>
<rect x="8" y="603" width="982" height="1" fill="#2a2e39" fill-opacity="0.14"/>
<rect x="918" y="74" width="6" height="1" fill="#2a2e39" fill-opacity="0.14"/>
<rect x="918" y="128" width="6" height="1" fill="#2a2e39" fill-opacity="0.14"/>
<rect x="918" y="181" width="6" height="1" fill="#2a2e39" fill-opacity="0.14"/>
<rect x="918" y="235" width="6" height="1" fill="#2a2e39" fill-opacity="0.14"/>
<rect x="918" y="289" width="6" height="1" fill="#2a2e39" fill-opacity="0.14"/>
<rect x="918" y="343" width="6" height="1" fill="#2a2e39" fill-opacity="0.14"/>
<rect x="918" y="396" width="6" height="1" fill="#2a2e39" fill-opacity="0.14"/>
<rect x="918" y="450" width="6" height="1" fill="#2a2e39" fill-opacity="0.14"/>
<rect x="918" y="504" width="6" height="1" fill="#2a2e39" fill-opacity="0.14"/>
<rect x="918" y="558" width="6" height="1" fill="#2a2e39" fill-opacity="0.14"/>
<rect x="90" y="603" width="1" height="6" fill="#2a2e39" fill-opacity="0.14"/>
<rect x="213" y="603" width="1" height="6" fill="#2a2e39" fill-opacity="0.14"/>
<rect x="335" y="603" width="1" height="6" fill="#2a2e39" fill-opacity="0.14"/>
<rect x="458" y="603" width="1" height="6" fill="#2a2e39" fill-opacity="0.14"/>
<rect x="621" y="603" width="1" height="6" fill="#2a2e39" fill-opacity="0.14"/>
<rect x="743" y="603" width="1" height="6" fill="#2a2e39" fill-opacity="0.14"/>
<rect x="907" y="603" width="1" height="6" fill="#2a2e39" fill-opacity="0.14"/>
<path shape-rendering="geometricPrecision" d="M918 512H982a2 2 0 0 1 2 2V529a2 2 0 0 1 -2 2H918Z" fill="#ef5350"/>
<rect x="918" y="521" width="6" height="1" fill="#fff" fill-opacity="0.85"/>
<rect x="7.5" y="49.5" width="983" height="585" fill="none" stroke="#000" stroke-width="1"/>
</svg>

<svg width="998" height="642" viewBox="0 0 998 642"><polygon points="239.6,38 245.5,27.5 251.4,38" fill="#26a69a"/></svg>
<div class="t" style="left:6.97px;top:6px;transform:scaleX(1.0253);">Published</div>
<div class="t" style="left:73.67px;top:6px;transform:scaleX(1.0805);">on</div>
<div class="t" style="left:93.61px;top:6px;transform:scaleX(1.0662);">TradingView.com,</div>
<div class="t" style="left:213.45px;top:6px;transform:scaleX(0.9550);">June</div>
<div class="t" style="left:246.53px;top:6px;transform:scaleX(0.9879);">19,</div>
<div class="t" style="left:270.79px;top:6px;transform:scaleX(1.0350);">2021</div>
<div class="t" style="left:306.15px;top:6px;transform:scaleX(1.0365);">14:26:53</div>
<div class="t" style="left:367.04px;top:6px;transform:scaleX(0.9581);">UTC</div>
<div class="t b" style="left:7.12px;top:25px;transform:scaleX(0.9548);">BINANCE:DOGEUSDT,</div>
<div class="t b" style="left:154.89px;top:25px;transform:scaleX(1.0483);">240</div>
<div class="t" style="left:184.88px;top:25px;transform:scaleX(1.0300);">0.29336</div>
<div class="t" style="left:254.14px;top:25px;transform:scaleX(1.0381);">+0.00008</div>
<div class="t" style="left:319.05px;top:25px;transform:scaleX(1.0251);">(+0.03%)</div>
<div class="t b" style="left:380.02px;top:25px;transform:scaleX(1.0189);">O:</div>
<div class="t" style="left:395.89px;top:25px;transform:scaleX(1.0309);color:#26a69a;">0.29561</div>
<div class="t b" style="left:451.53px;top:25px;transform:scaleX(1.0049);">H:</div>
<div class="t" style="left:467.89px;top:25px;transform:scaleX(1.0127);color:#26a69a;">0.29756</div>
<div class="t b" style="left:522.88px;top:25px;transform:scaleX(0.8073);">L:</div>
<div class="t" style="left:534.88px;top:25px;transform:scaleX(1.0225);color:#26a69a;">0.29058</div>
<div class="t b" style="left:591.54px;top:25px;transform:scaleX(0.7767);">C:</div>
<div class="t" style="left:603.91px;top:25px;transform:scaleX(1.0172);color:#26a69a;">0.29347</div>
<div class="t b" style="left:16.61px;top:60px;transform:scaleX(1.0018);">Dogecoin</div>
<div class="t b" style="left:96.78px;top:60px;transform:scaleX(1.0168);">TetherUS,</div>
<div class="t b" style="left:165.78px;top:60px;transform:scaleX(1.0669);">4h,</div>
<div class="t b" style="left:192.61px;top:60px;transform:scaleX(0.9424);">BINANCE</div>
<div class="t b" style="left:83.91px;top:60.76px;transform:scaleX(1.3000);font-size:18px;">/</div>
<div class="t" style="left:16.68px;top:79px;transform:scaleX(1.0465);">Vol</div>
<div class="t" style="left:927.97px;top:66px;transform:scaleX(0.9559);">0.46000</div>
<div class="t" style="left:927.97px;top:120px;transform:scaleX(0.9559);">0.44000</div>
<div class="t" style="left:927.97px;top:174px;transform:scaleX(0.9559);">0.42000</div>
<div class="t" style="left:927.97px;top:227px;transform:scaleX(0.9559);">0.40000</div>
<div class="t" style="left:927.97px;top:281px;transform:scaleX(0.9559);">0.38000</div>
<div class="t" style="left:927.97px;top:335px;transform:scaleX(0.9559);">0.36000</div>
<div class="t" style="left:927.97px;top:388px;transform:scaleX(0.9559);">0.34000</div>
<div class="t" style="left:927.97px;top:442px;transform:scaleX(0.9559);">0.32000</div>
<div class="t" style="left:927.97px;top:496px;transform:scaleX(0.9559);">0.30000</div>
<div class="t" style="left:927.97px;top:550px;transform:scaleX(0.9559);">0.28000</div>
<div class="t b" style="left:929.05px;top:514px;transform:scaleX(0.9655);color:#fff;">0.29347</div>
<div class="t b" style="left:78.07px;top:611px;transform:scaleX(0.9723);">Jun</div>
<div class="t" style="left:209.46px;top:611px;transform:scaleX(1.0405);">4</div>
<div class="t" style="left:330.89px;top:611px;transform:scaleX(1.2423);">7</div>
<div class="t" style="left:449.47px;top:611px;transform:scaleX(1.0411);">10</div>
<div class="t" style="left:613.47px;top:611px;transform:scaleX(1.0427);">14</div>
<div class="t" style="left:735.98px;top:611px;transform:scaleX(1.0314);">17</div>
<div class="t" style="left:899.40px;top:611px;transform:scaleX(0.9460);">21</div>
</body></html>
